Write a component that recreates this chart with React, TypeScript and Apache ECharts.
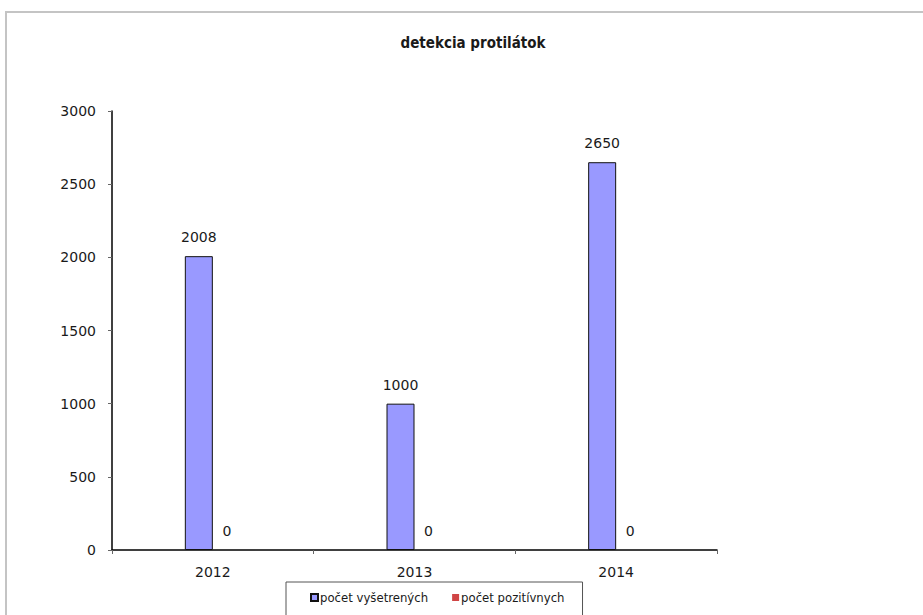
import React, { useEffect, useRef } from "react";
import * as echarts from "echarts";

const categories = ["2012", "2013", "2014"];
const examined = [2008, 1000, 2650];
const positive = [0, 0, 0];
const seriesNames = ["počet vyšetrených", "počet pozitívnych"];
const titleText = "detekcia protilátok";

export default function App() {
  const ref = useRef<HTMLDivElement>(null);
  useEffect(() => {
    const chart = echarts.init(ref.current!, null, { renderer: "svg" });
    const font = "DejaVu Sans";
    const txt = "#1a1a1a";
    chart.setOption({
      animation: false,
      backgroundColor: "#ffffff",
      title: {
        text: titleText,
        left: 468,
        textAlign: "center",
        top: 30,
        textStyle: { fontFamily: "DejaVu Sans Condensed", fontWeight: "bold", fontSize: 15, color: txt },
      },
      graphic: [
        {
          type: "rect",
          shape: { x: 6, y: 12, width: 1000, height: 700 },
          style: { fill: "none", stroke: "#c4c4c4", lineWidth: 2 },
          silent: true,
        },
      ],
      legend: {
        left: 286,
        top: 582,
        itemWidth: 7,
        itemHeight: 7,
        itemGap: 24,
        icon: "rect",
        borderColor: "#555",
        borderWidth: 1,
        padding: [9, 18, 14, 24],
        textStyle: { fontFamily: "DejaVu Sans Condensed", fontSize: 13, color: txt, padding: [0, 0, 0, -3] },
        data: seriesNames,
      },
      grid: { left: 112, right: 206, top: 111, bottom: 65, containLabel: false },
      xAxis: {
        type: "category",
        data: categories,
        axisLine: { lineStyle: { color: "#000", width: 1.5 } },
        axisTick: { show: true, length: 4, lineStyle: { color: "#666" } },
        axisLabel: { margin: 15, fontFamily: font, fontSize: 14, color: txt },
      },
      yAxis: {
        type: "value",
        min: 0,
        max: 3000,
        interval: 500,
        splitLine: { show: false },
        axisLine: { show: true, lineStyle: { color: "#000", width: 1.5 } },
        axisTick: { show: true, length: 4, lineStyle: { color: "#666" } },
        axisLabel: { margin: 16, fontFamily: font, fontSize: 14, color: txt, formatter: (v: number) => String(v) },
      },
      series: [
        {
          name: seriesNames[0],
          type: "bar",
          data: examined,
          barWidth: 28,
          barGap: "0%",
          itemStyle: { color: "#9999ff", borderColor: "#111", borderWidth: 1 },
          label: { show: true, position: "top", distance: 12, fontFamily: font, fontSize: 14, color: txt },
        },
        {
          name: seriesNames[1],
          type: "bar",
          data: positive,
          barWidth: 28,
          barGap: "0%",
          itemStyle: { color: "#d04545", borderColor: "#111", borderWidth: 0 },
          label: { show: true, position: "top", distance: 12, fontFamily: font, fontSize: 14, color: txt },
        },
      ],
    });
    return () => chart.dispose();
  }, []);
  return (
    <div
      ref={ref}
      style={{ position: "absolute", left: 0, top: 0, width: 923, height: 615 }}
    />
  );
}
